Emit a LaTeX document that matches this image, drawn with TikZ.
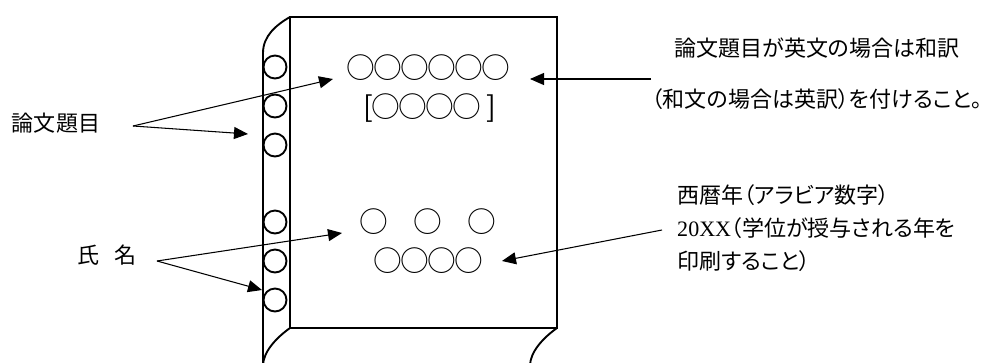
\documentclass[tikz,border=0pt]{standalone}
\usepackage{fontspec}
\setmainfont{Liberation Serif}
\newfontfamily\jpfont[RawFeature=+palt]{Noto Sans CJK JP}
\newfontfamily\markfont[LetterSpace=-6]{Noto Sans CJK JP}
\usetikzlibrary{arrows.meta}

\begin{document}
\begin{tikzpicture}[x=0.03cm, y=-0.03cm,
    label/.style={font=\jpfont\fontsize{18.8}{28.2}\selectfont, inner sep=0pt},
    marks/.style={font=\markfont\fontsize{24.5}{30}\selectfont, inner sep=0pt},
    pointer/.style={-{Triangle[length=0.42cm, width=0.36cm]}, line width=0.9pt},
    sheet/.style={line width=1.6pt}]
                \useasboundingbox (0,0) rectangle (995,363);
                % Sheet with punched strip
                \draw[sheet] (290,17) rectangle (557,328);
                \draw[sheet] (263,370) -- (263,53) .. controls (263,36) and (276,25) .. (290,17);
                \draw[sheet] (290,328) .. controls (276,338) and (263,352) .. (263,366);
                \draw[sheet] (557,328) .. controls (543,338) and (530,352) .. (530,366);
                % Holes
                \foreach \y in {67,106,145,222,261,300}
                    \draw[sheet] (275,\y) circle (11.5);

                % Marks on the cover
                \node[marks] (titlemarks) at (428,68) {○○○○○○};
                \node[marks] (subtitlemarks) at (430,108) {[○○○○ ]};
                \node[marks] (namemarks) at (428,222) {○　○　○};
                \node[marks] (yearmarks) at (428,261) {○○○○};

                % Labels
                \node[label] (titlelabel) at (56,123) {論文題目};
                \node[label] (namelabel) at (107,255) {氏\hspace{13pt}名};
                \node[label, align=center, font=\jpfont\fontsize{18.8}{43.5}\selectfont] (translabel) at (817,74) {論文題目が英文の場合は和訳\\（和文の場合は英訳）を付けること。};
                \node[label, align=left, anchor=west] (yearlabel) at (677,228) {西暦年（アラビア数字）\\{\rmfamily 20XX}（学位が授与される年を\\印刷すること）};

                % Arrow ends
                \coordinate (titlefork) at (133,126);
                \coordinate (titletip) at (333,79);
                \coordinate (titlehole) at (248,134);
                \coordinate (namefork) at (157,261);
                \coordinate (nametip) at (342,233);
                \coordinate (namehole) at (262,290);
                \coordinate (transstart) at (651,79);
                \coordinate (transtip) at (530,79);
                \coordinate (yearstart) at (662,230);
                \coordinate (yeartip) at (502,261);

                % Arrows
                \draw[pointer] (titlefork) -- (titletip);
                \draw[pointer] (titlefork) -- (titlehole);
                \draw[pointer] (namefork) -- (nametip);
                \draw[pointer] (namefork) -- (namehole);
                \draw[pointer] (transstart) -- (transtip);
                \draw[pointer] (yearstart) -- (yeartip);

            \end{tikzpicture}
\end{document}
